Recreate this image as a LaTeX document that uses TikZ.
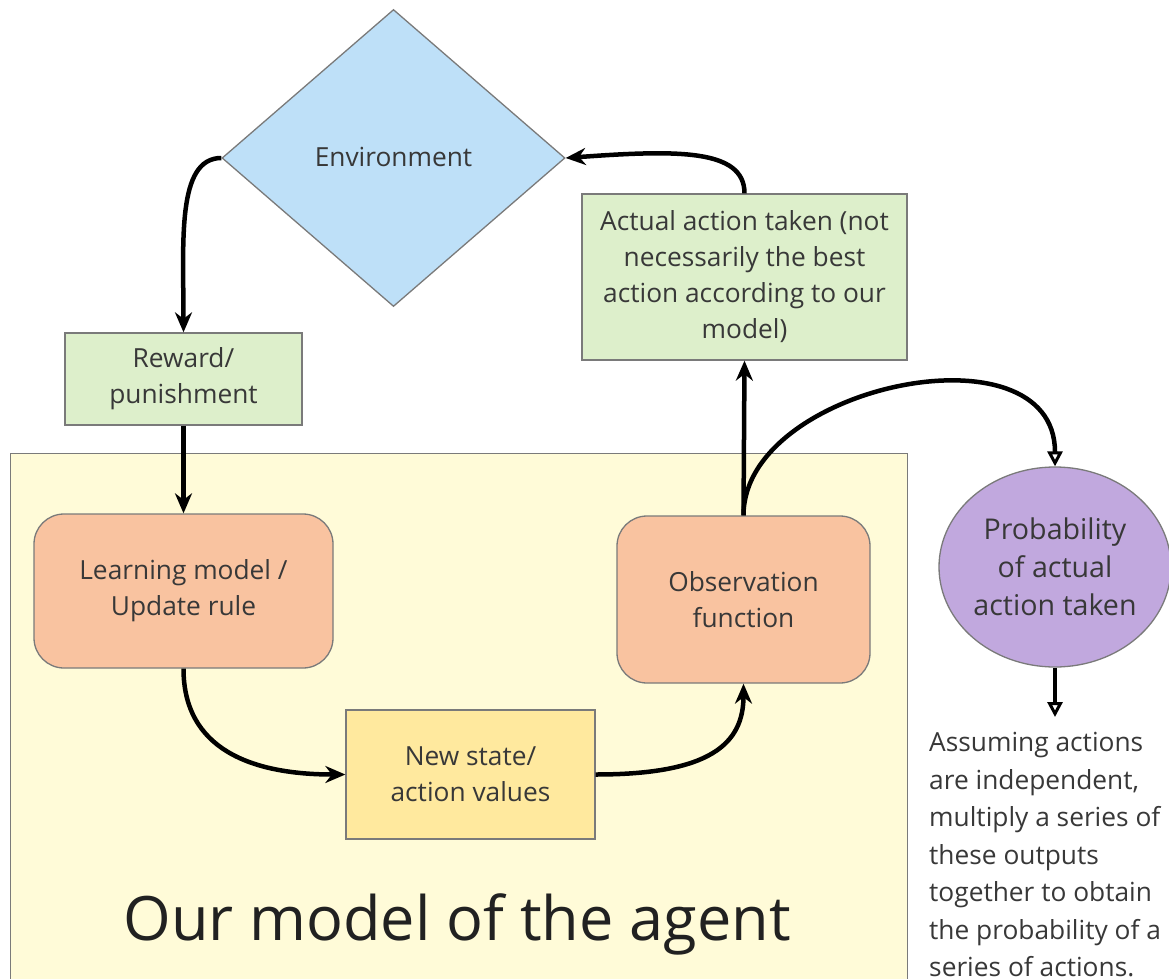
\documentclass[tikz,border=0pt]{standalone}
\usepackage{fontspec}
\setmainfont{Open Sans}
\usetikzlibrary{shapes.geometric,arrows.meta}

\definecolor{envblue}{HTML}{BEE0F8}
\definecolor{boxgreen}{HTML}{DDEFCB}
\definecolor{agentbg}{HTML}{FFFBD8}
\definecolor{salmon}{HTML}{F9C3A0}
\definecolor{valyellow}{HTML}{FFE99E}
\definecolor{probpurple}{HTML}{C1A8DE}
\definecolor{edgegray}{HTML}{7A7A7A}
\definecolor{txt}{HTML}{383838}

\tikzset{
  shapebase/.style={draw=edgegray, line width=1.3pt, text=txt, align=center, inner sep=0pt,
    font=\fontsize{26.3}{36}\selectfont},
  greenbox/.style={shapebase, fill=boxgreen, rectangle},
  roundbox/.style={shapebase, fill=salmon, rectangle, rounded corners=30pt},
  flow/.style={line width=4.5pt, -{Stealth[length=20pt,width=17pt]}},
  openflow/.style={line width=4.5pt, -{Triangle[open,length=15pt,width=15pt,fill=white,line width=3pt]}},
}

\begin{document}
\begin{tikzpicture}[x=1pt,y=-1pt]
\clip (0,0) rectangle (1169,979);
\fill[white] (0,0) rectangle (1169,979);

% agent frame
\node (agent) [draw=edgegray, line width=1.3pt, fill=agentbg, anchor=north west,
  minimum width=897pt, minimum height=600pt, inner sep=0pt] at (10,453) {};
\node (title) [text=black!87, font=\fontsize{61.2}{70}\selectfont] at (457,924) {Our model of the agent};

% environment
\node (env) [shapebase, diamond, fill=envblue, minimum width=343pt, minimum height=297pt,
  aspect=1.155] at (393.5,158) {\raisebox{3pt}{Environment}};

% boxes
\node (act) [greenbox, minimum width=325pt, minimum height=166pt] at (744.5,277)
  {Actual action taken (not\\necessarily the best\\action according to our\\model)};
\node (reward) [greenbox, minimum width=237pt, minimum height=92pt] at (183.5,379)
  {Reward/\\punishment};
\node (learn) [roundbox, minimum width=299pt, minimum height=154pt] at (183.5,591)
  {Learning model /\\Update rule};
\node (obs) [roundbox, minimum width=253pt, minimum height=167pt] at (743.5,599.5)
  {Observation\\function};
\node (vals) [shapebase, fill=valyellow, minimum width=249pt, minimum height=129pt] at (470.5,774.5)
  {New state/\\action values};
\node (prob) [shapebase, ellipse, fill=probpurple, minimum width=232pt, minimum height=200pt,
  font=\fontsize{28.6}{38}\selectfont] at (1055,567)
  {Probability\\of actual\\action taken};

\node (note) [anchor=north west, align=left, text=txt, inner sep=0pt,
  font=\fontsize{26.3}{37.5}\selectfont] at (929,732)
  {Assuming actions\\are independent,\\multiply a series of\\these outputs\\together to obtain\\the probability of a\\series of actions.};
\coordinate (noteTop) at (1055,717);

% connectors
\draw[flow] (env.west) .. controls +(-45,0) and +(0,-90) .. (reward.north);
\draw[flow] (reward.south) -- (learn.north);
\draw[flow] (learn.south) .. controls +(0,80) and +(-95,0) .. (vals.west);
\draw[flow] (vals.east) .. controls +(115,0) and +(0,60) .. (obs.south);
\draw[flow] (obs.north) -- (act.south);
\draw[flow] (act.north) .. controls +(0,-45) and +(110,-8) .. (env.east);
\draw[openflow] (obs.north) .. controls +(0,-130) and +(0,-145) .. (prob.north);
\draw[openflow] (prob.south) -- (noteTop);
\end{tikzpicture}
\end{document}
